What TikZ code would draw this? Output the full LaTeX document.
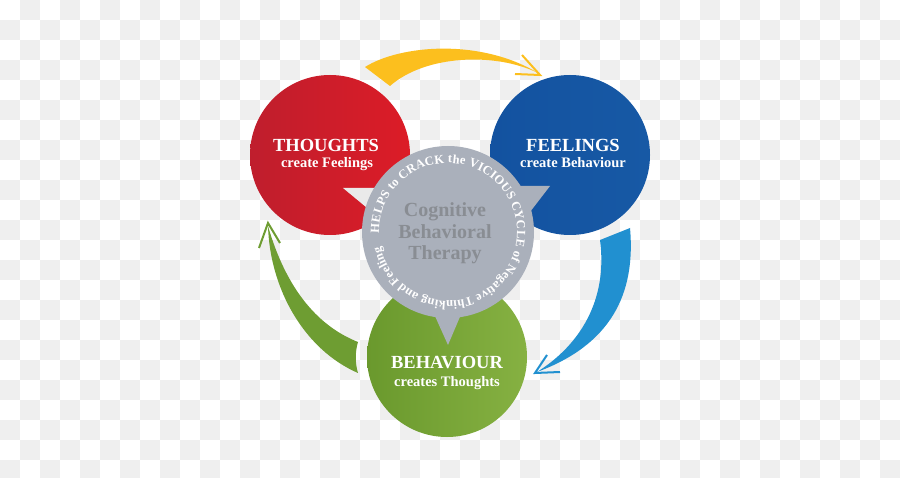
\documentclass[tikz,border=0pt]{standalone}
\usepackage{fontspec}
\setmainfont{Liberation Serif}
\usetikzlibrary{decorations.text}
\definecolor{bggray}{HTML}{EFEFEF}
\definecolor{redL}{HTML}{BF1E2D}
\definecolor{redR}{HTML}{DC1C27}
\definecolor{blueL}{HTML}{1352A0}
\definecolor{blueR}{HTML}{1759A5}
\definecolor{greenL}{HTML}{6A992D}
\definecolor{greenR}{HTML}{86B142}
\definecolor{greyC}{HTML}{AAB0BB}
\definecolor{greyT}{HTML}{898D93}
\definecolor{notch}{HTML}{EAEAEA}
\definecolor{yellowA}{HTML}{FCBF1E}
\definecolor{blueA}{HTML}{2190D0}
\definecolor{greenA}{HTML}{6E9D32}
\begin{document}
\begin{tikzpicture}[x=1pt,y=1pt,
  title/.style={text=white,font=\bfseries\fontsize{18.5}{20}\selectfont,inner sep=0pt,anchor=base},
  sub/.style={text=white,font=\bfseries\fontsize{14.5}{16}\selectfont,inner sep=0pt,anchor=base},
  cbt/.style={text=greyT,font=\bfseries\fontsize{20}{22}\selectfont,inner sep=0pt,anchor=base},
  bigcirc/.style={circle,inner sep=0pt,minimum size=160pt,draw=none},
  chevron/.style={line width=2pt,line join=miter,line cap=butt}]
\useasboundingbox (0,0) rectangle (900,477);
\clip (0,0) rectangle (900,477);
% checkerboard background
\foreach \r in {0,...,23}{
  \foreach \c in {0,...,44}{
    \pgfmathtruncatemacro\odd{mod(\r+\c,2)}
    \ifnum\odd=1 \fill[bggray] (20*\c,457-20*\r) rectangle ++(20,20); \fi
  }
}
% arrows
\fill[yellowA] (365,410) .. controls (400,432) and (480,439) .. (538,404)
  .. controls (495,425) and (425,422) .. (390,391) -- cycle;
\draw[yellowA,chevron] (522,422) -- (540,402) -- (515,403);
\fill[blueA] (630,249) .. controls (636,182) and (610,132) .. (537,105)
  .. controls (580,132) and (608,177) .. (600,237) -- cycle;
\draw[blueA,chevron] (560,105) -- (535,104) -- (547,122);
\fill[greenA] (358,104) .. controls (305,127) and (270,187) .. (268,251)
  .. controls (285,192) and (315,152) .. (358,135)
  .. controls (355,125) and (355,114) .. cycle;
\draw[greenA,chevron] (259,229) -- (268,254) -- (280,234);
% circles
\node[bigcirc,left color=redL,right color=redR] (thoughts) at (330,322) {};
\node[bigcirc,left color=blueL,right color=blueR] (feelings) at (570,322) {};
\node[bigcirc,left color=greenL,right color=greenR] (behaviour) at (447,120) {};
% pointers
\fill[notch] (343,289) -- (400,289) -- (372,265) -- cycle;
\fill[greyC] (505,291) -- (550,291) -- (520,252) -- cycle;
\fill[greyC] (430,172) -- (465,172) -- (448,132) -- cycle;
\node[circle,inner sep=0pt,minimum size=172pt,fill=greyC] (cbtc) at (448,245) {};
% labels
\node[title] (t1) at (326,325) {THOUGHTS};
\node[sub] (t2) at (327,309) {create Feelings};
\node[title] (f1) at (573,325) {FEELINGS};
\node[sub] (f2) at (573,309) {create Behaviour};
\node[title] (b1) at (447,108) {BEHAVIOUR};
\node[sub] (b2) at (447,91) {creates Thoughts};
\node[cbt] (c1) at (445,260) {Cognitive};
\node[cbt] (c2) at (445,238) {Behavioral};
\node[cbt] (c3) at (445,217) {Therapy};
% curved text
\path[decorate,decoration={text along path,text align={fit to path},
  text={|\bfseries\fontsize{12.5}{13}\selectfont\color{white}|HELPS to CRACK the VICIOUS CYCLE of Negative Thinking and Feeling}}]
  (448,245) ++(181:69) arc[start angle=181,end angle=-168,radius=69];
\end{tikzpicture}
\end{document}
